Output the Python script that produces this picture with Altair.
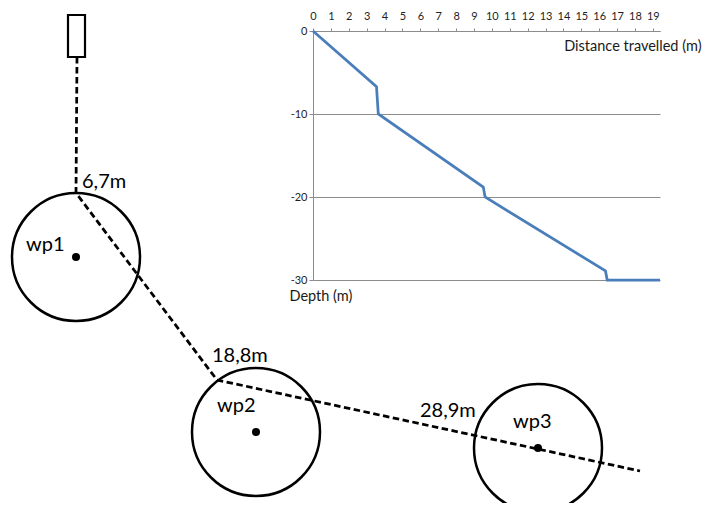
import altair as alt
import pandas as pd

# ---------------- Inset: depth profile ----------------
distance = [0, 3.55, 3.65, 9.52, 9.62, 16.35, 16.45, 19.4]
depth = [0, -6.7, -10.0, -18.8, -20.0, -28.9, -30.0, -30.0]
x_ticks = list(range(20))
y_ticks = [0, -10, -20, -30]
x_domain = [0, 19.4]
y_domain = [-30, 0]

# ---------------- Schematic (drawing frame, page pixels) ----------------
wp_names = ["wp1", "wp2", "wp3"]
wp_x = [76, 256, 538]
wp_y = [257, 432, 448]
wp_label_x = [26, 217, 513]
wp_label_y = [251, 412, 428]
path_x = [77, 76, 217, 640]
path_y = [57, 193, 380, 471]
leg_labels = ["6,7m", "18,8m", "28,9m"]
leg_label_x = [82, 212, 420]
leg_label_y = [188, 362, 417]
buoy_x = [68, 85]
buoy_y = [15, 57]

FONT = "Lato"
CANVAS_W, CANVAS_H = 694, 495          # fits the 710x511 window with 8px margins
ORIGIN_X, ORIGIN_Y = 313, 31           # page position of the inset plot origin
PAD_L, PAD_T = ORIGIN_X - 8, ORIGIN_Y - 8
IN_W, IN_H = 347, 249
PAD_R = CANVAS_W - PAD_L - IN_W
PAD_B = CANVAS_H - PAD_T - IN_H

# schematic frame -> canvas (relative to inset plot origin)
sx = alt.Scale(domain=[8, 8 + CANVAS_W],
               range=[8 - ORIGIN_X, 8 + CANVAS_W - ORIGIN_X], nice=False, zero=False)
sy = alt.Scale(domain=[8, 8 + CANVAS_H],
               range=[8 - ORIGIN_Y, 8 + CANVAS_H - ORIGIN_Y], nice=False, zero=False)

wp_df = pd.DataFrame({"name": wp_names, "x": wp_x, "y": wp_y,
                      "lx": wp_label_x, "ly": wp_label_y})
path_df = pd.DataFrame({"x": path_x, "y": path_y, "i": range(len(path_x))})
leg_df = pd.DataFrame({"label": leg_labels, "x": leg_label_x, "y": leg_label_y})
buoy_df = pd.DataFrame({"x": [buoy_x[0]], "x2": [buoy_x[1]],
                        "y": [buoy_y[0]], "y2": [buoy_y[1]]})

X = lambda f: alt.X(f, type="quantitative", scale=sx, axis=None)
Y = lambda f: alt.Y(f, type="quantitative", scale=sy, axis=None)

path = alt.Chart(path_df).mark_line(
    color="black", strokeWidth=2.75, strokeDash=[6.5, 3.5]
).encode(x=X("x"), y=Y("y"), order="i:Q")

buoy = alt.Chart(buoy_df).mark_rect(
    fill="white", stroke="black", strokeWidth=2.2
).encode(x=X("x"), x2="x2", y=Y("y"), y2="y2")

circles = alt.Chart(wp_df).mark_point(
    shape="circle", filled=False, size=128 * 128,
    stroke="black", strokeWidth=2.5, opacity=1
).encode(x=X("x"), y=Y("y"))

dots = alt.Chart(wp_df).mark_point(
    shape="circle", filled=True, size=64, color="black", opacity=1
).encode(x=X("x"), y=Y("y"))

wp_text = alt.Chart(wp_df).mark_text(
    align="left", baseline="alphabetic", font=FONT, fontSize=20, color="black"
).encode(x=X("lx"), y=Y("ly"), text="name:N")

leg_text = alt.Chart(leg_df).mark_text(
    align="left", baseline="alphabetic", font=FONT, fontSize=20, color="black"
).encode(x=X("x"), y=Y("y"), text="label:N")

diagram = alt.layer(path, buoy, circles, dots, wp_text, leg_text)

# ---------------- Inset chart (main plot area) ----------------
ix = alt.Scale(domain=x_domain, nice=False, zero=False)
iy = alt.Scale(domain=y_domain, nice=False, zero=False)
AX_COL = "#8c8c8c"

x_axis = alt.Axis(
    orient="top", values=x_ticks, grid=False,
    domainColor=AX_COL, tickColor=AX_COL, tickSize=3, domainWidth=1,
    labelFont=FONT, labelFontSize=11, labelColor="#1e1e1e", labelPadding=7,
    labelFlush=False, labelOverlap=False,
    title="Distance travelled (m)", titleFont=FONT, titleFontSize=14.5,
    titleFontWeight="normal", titleColor="#1a1a1a",
    titleAlign="right", titleBaseline="alphabetic",
    titleX=8 + CANVAS_W - ORIGIN_X - 1, titleY=19.5, titleAngle=0,
)
y_axis = alt.Axis(
    orient="left", values=y_ticks, grid=True, gridColor=AX_COL, gridWidth=1,
    domainColor=AX_COL, tickColor=AX_COL, tickSize=4, domainWidth=1,
    labelFont=FONT, labelFontSize=11, labelColor="#1e1e1e", labelPadding=2,
    labelFlush=False, labelOverlap=False, labelExpr="'' + datum.value",
    title="Depth (m)", titleFont=FONT, titleFontSize=14.5,
    titleFontWeight="normal", titleColor="#1a1a1a", titleAngle=0,
    titleAlign="left", titleBaseline="alphabetic", titleX=-24, titleY=269.5,
)

profile_df = pd.DataFrame({"distance": distance, "depth": depth,
                           "i": range(len(distance))})

profile = alt.Chart(profile_df).mark_line(
    color="#4a7ebb", strokeWidth=2.75
).encode(
    x=alt.X("distance:Q", scale=ix, axis=x_axis),
    y=alt.Y("depth:Q", scale=iy, axis=y_axis),
    order="i:Q",
)

chart = alt.layer(profile, diagram).resolve_scale(
    x="independent", y="independent"
).resolve_axis(
    x="independent", y="independent"
).properties(
    width=IN_W, height=IN_H,
    padding={"left": PAD_L, "top": PAD_T, "right": PAD_R, "bottom": PAD_B},
    autosize=alt.AutoSizeParams(type="none"),
    background="white",
).configure_view(strokeWidth=0)

chart.save("out.html", embed_options={"renderer": "svg", "actions": False})
